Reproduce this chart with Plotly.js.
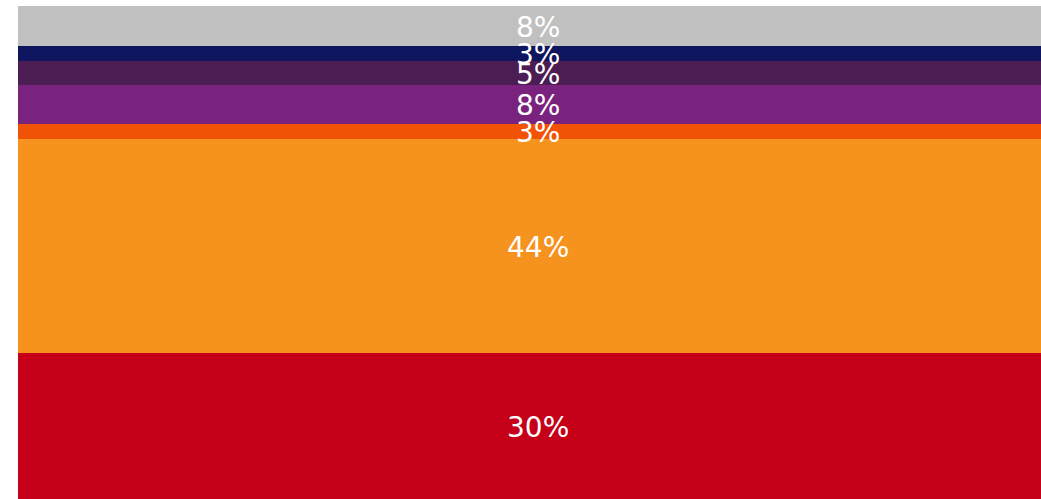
<!DOCTYPE html>
<html>
<head>
<meta charset="utf-8">
<script src="https://cdn.plot.ly/plotly-3.0.1.min.js"></script>
<style>
html,body{margin:0;padding:0;overflow:hidden;background:#fff;}
#chart{width:1058px;height:499px;}
</style>
</head>
<body>
<div id="chart"></div>
<script>
// Segments, bottom to top
const category = ["Total"];
const segmentNames = ["A", "B", "C", "D", "E", "F", "G"];
const segmentValues = [29.6, 43.4, 3.0, 7.9, 4.9, 3.0, 8.1];
const segmentLabels = ["30%", "44%", "3%", "8%", "5%", "3%", "8%"];
const segmentColors = ["#c50018", "#f6921e", "#f05206", "#7a237e", "#4b1d52", "#0d155e", "#c0c0c0"];

const traces = segmentNames.map((name, i) => ({
  type: "bar",
  name: name,
  x: category,
  y: [segmentValues[i]],
  marker: {color: segmentColors[i], line: {width: 0}},
  hoverinfo: "none"
}));

// Labels drawn above all bars at each segment's midpoint
let cum = 0;
const mids = segmentValues.map(v => { const m = cum + v / 2; cum += v; return m; });
const annotations = segmentLabels.map((t, i) => ({
  x: category[0],
  y: mids[i],
  xref: "x",
  yref: "y",
  text: t,
  showarrow: false,
  yshift: -1,
  font: {family: "DejaVu Sans", size: 28, color: "#ffffff"}
}));

const layout = {
  width: 1058,
  height: 499,
  margin: {l: 18, r: 0, t: 6, b: 0, pad: 0},
  barmode: "stack",
  bargap: 0,
  showlegend: false,
  paper_bgcolor: "#ffffff",
  plot_bgcolor: "#ffffff",
  xaxis: {visible: false, showgrid: false, zeroline: false},
  yaxis: {visible: false, showgrid: false, zeroline: false, range: [0, 100]},
  annotations: annotations
};

Plotly.newPlot("chart", traces, layout, {displayModeBar: false, staticPlot: true});
</script>
</body>
</html>
